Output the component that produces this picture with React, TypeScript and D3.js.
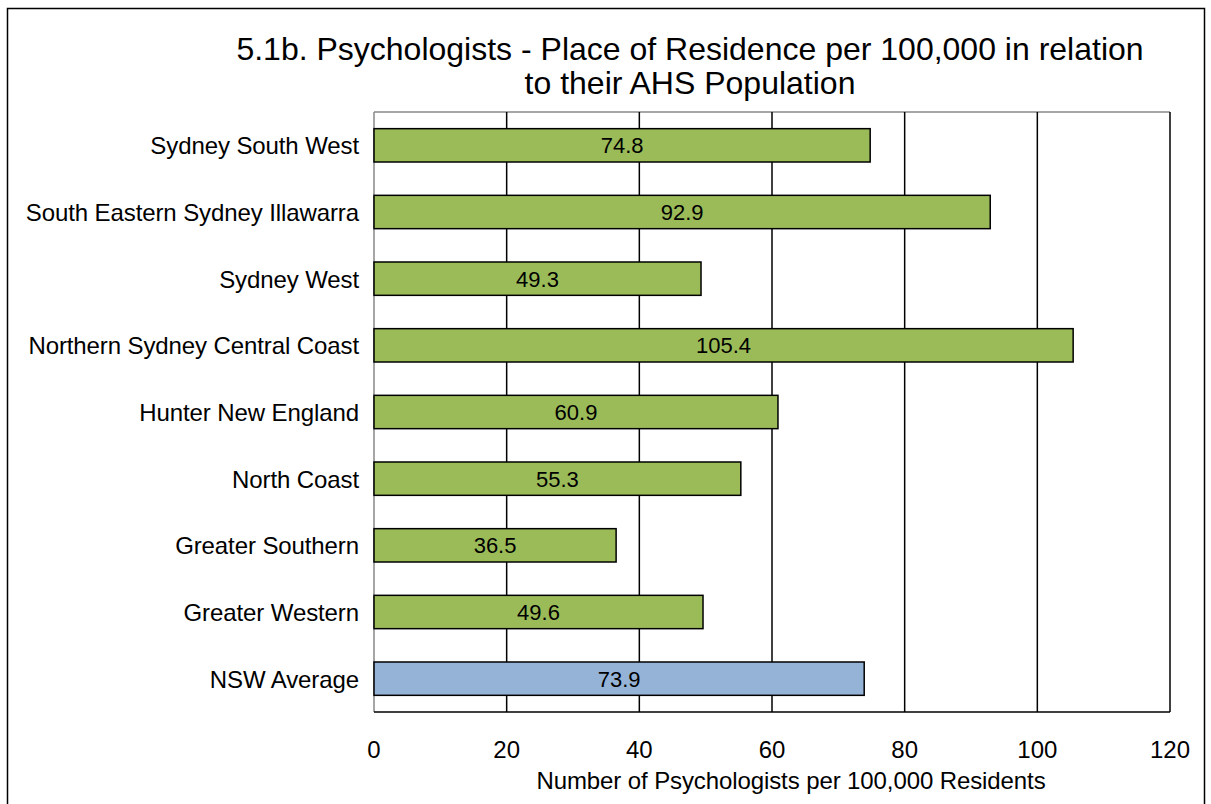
import React from "react";
import * as d3 from "d3";

const categories = [
  "Sydney South West",
  "South Eastern Sydney Illawarra",
  "Sydney West",
  "Northern Sydney Central Coast",
  "Hunter New England",
  "North Coast",
  "Greater Southern",
  "Greater Western",
  "NSW Average",
];
const values = [74.8, 92.9, 49.3, 105.4, 60.9, 55.3, 36.5, 49.6, 73.9];
const xTicks = [0, 20, 40, 60, 80, 100, 120];
const titleLines = [
  "5.1b. Psychologists - Place of Residence per 100,000 in relation",
  "to their AHS Population",
];
const xTitle = "Number of Psychologists per 100,000 Residents";

const W = 1211;
const H = 804;
const plot = { left: 374, right: 1170, top: 112, bottom: 712 };
const font = "'Liberation Sans', Arial, sans-serif";

export default function App() {
  const x = d3.scaleLinear().domain([0, 120]).range([plot.left, plot.right]);
  const y = d3
    .scaleBand<string>()
    .domain(categories)
    .range([plot.top, plot.bottom])
    .paddingInner(0.5)
    .paddingOuter(0.25);
  const green = "#9BBB59";
  const blue = "#95B3D7";
  return (
    <svg
      width={W}
      height={H}
      style={{ position: "absolute", left: 0, top: 0, display: "block" }}
      fontFamily={font}
    >
      <rect x={0} y={0} width={W} height={H} fill="#fff" />
      <rect x={7.5} y={8.5} width={1197} height={820} fill="none" stroke="#000" strokeWidth={1.5} />
      {titleLines.map((t, i) => (
        <text key={i} x={690} y={60 + i * 34} textAnchor="middle" fontSize={32} fill="#000">
          {t}
        </text>
      ))}
      {/* plot border */}
      <line x1={plot.left} x2={plot.right} y1={plot.top} y2={plot.top} stroke="#888" strokeWidth={1.5} />
      <line x1={plot.left} x2={plot.left} y1={plot.top} y2={plot.bottom} stroke="#888" strokeWidth={1.5} />
      <line x1={plot.right} x2={plot.right} y1={plot.top} y2={plot.bottom} stroke="#000" strokeWidth={1.5} />
      {xTicks.slice(1, -1).map((t) => (
        <line key={t} x1={x(t)} x2={x(t)} y1={plot.top} y2={plot.bottom} stroke="#000" strokeWidth={1.5} />
      ))}
      <line x1={plot.left} x2={plot.right} y1={plot.bottom} y2={plot.bottom} stroke="#000" strokeWidth={1.5} />
      {categories.map((c, i) => {
        const by = y(c)!;
        const bh = y.bandwidth();
        return (
          <g key={c}>
            <rect
              x={x(0)}
              y={by}
              width={x(values[i]) - x(0)}
              height={bh}
              fill={i === categories.length - 1 ? blue : green}
              stroke="#000"
              strokeWidth={1.5}
            />
            <text
              x={(x(0) + x(values[i])) / 2}
              y={by + bh / 2 + 8}
              textAnchor="middle"
              fontSize={22}
              fill="#000"
            >
              {values[i].toFixed(1)}
            </text>
            <text x={359} y={by + bh / 2 + 9} textAnchor="end" fontSize={24} letterSpacing={-0.1} fill="#000">
              {c}
            </text>
          </g>
        );
      })}
      {xTicks.map((t) => (
        <text key={t} x={x(t)} y={758} textAnchor="middle" fontSize={24} fill="#000">
          {t}
        </text>
      ))}
      <text x={791} y={789} textAnchor="middle" fontSize={24} letterSpacing={-0.1} fill="#000">
        {xTitle}
      </text>
    </svg>
  );
}
